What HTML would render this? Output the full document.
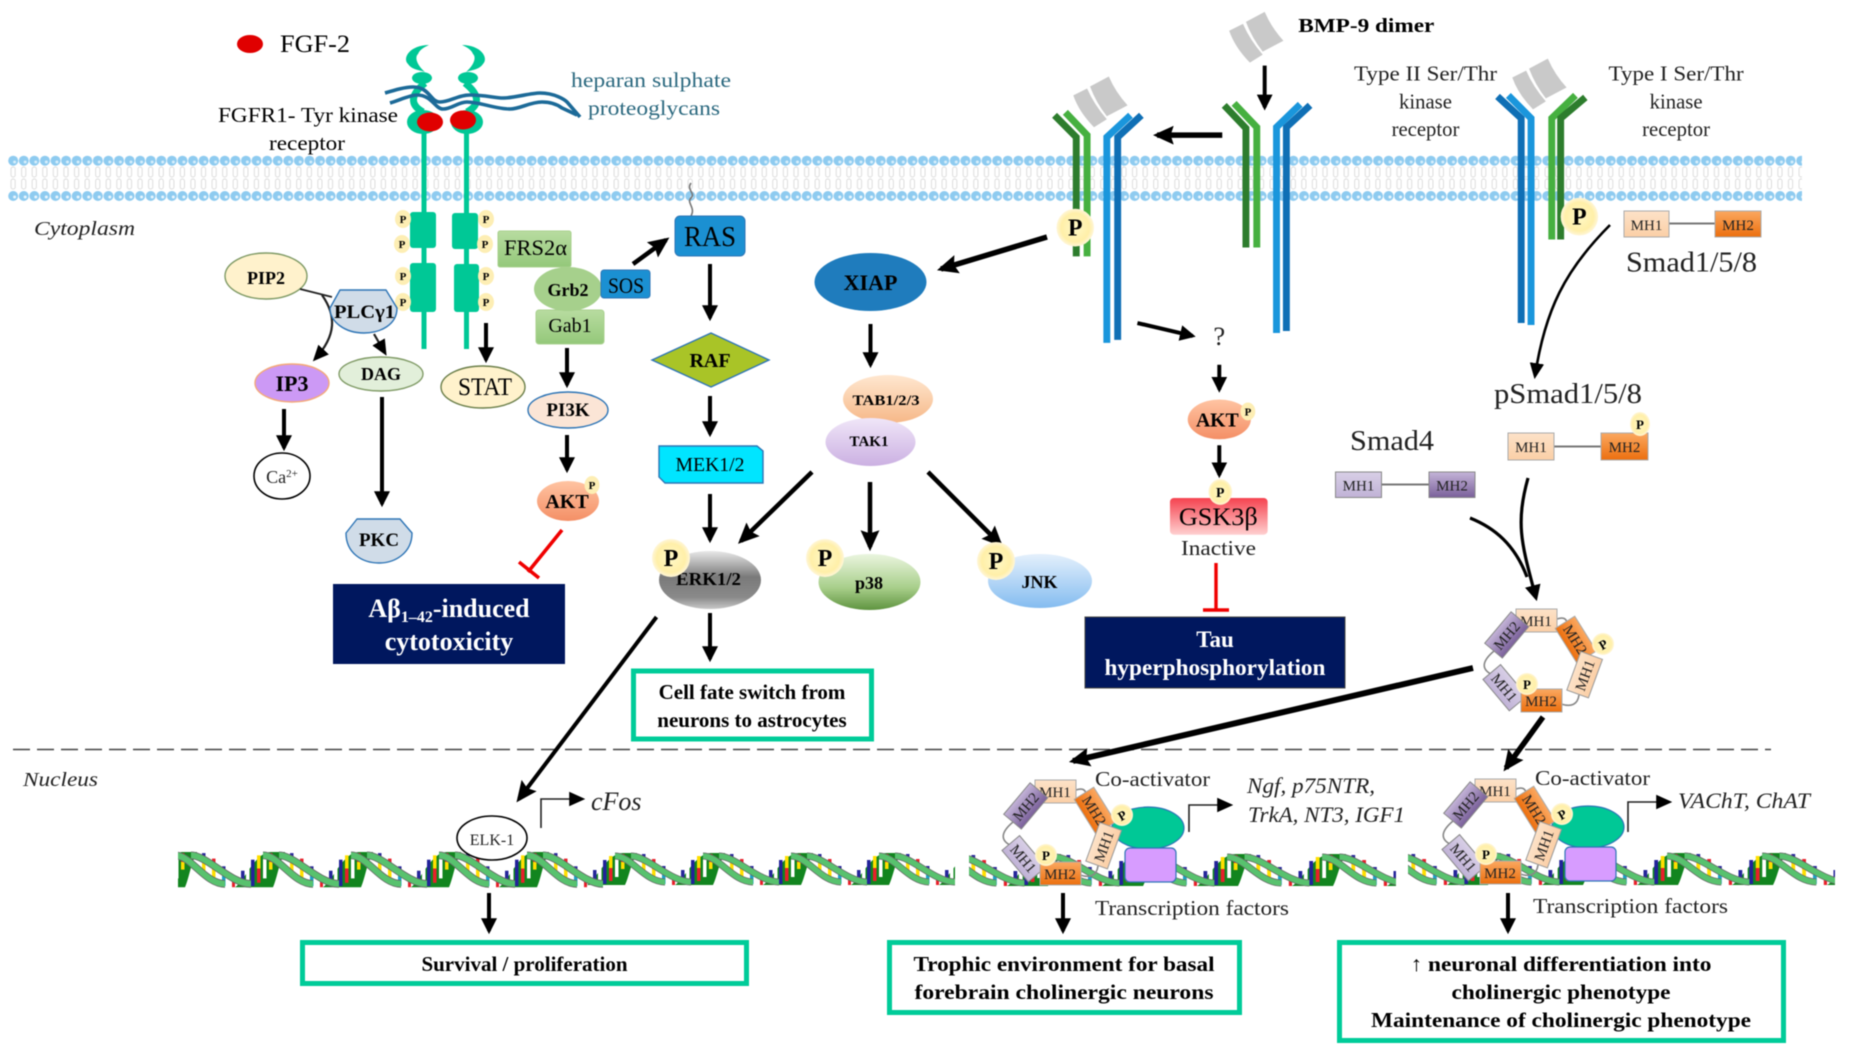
<!DOCTYPE html>
<html><head><meta charset="utf-8"><title>FGF-2 and BMP-9 signalling</title>
<style>
html,body{margin:0;padding:0;background:#fff}
svg{display:block;font-family:"Liberation Serif",serif;filter:blur(.45px)}
.b{font-weight:bold}.i{font-style:italic}
.m{font-size:15px;fill:#222;text-anchor:middle}
.ar{stroke:#000;fill:none;stroke-width:4;marker-end:url(#a)}
.at{stroke:#000;fill:none;stroke-width:5.5;marker-end:url(#c)}
.th{stroke:#000;fill:none;stroke-width:4.5;marker-end:url(#c)}
.gbox{fill:#fff;stroke:#00cc99;stroke-width:5}
.link{fill:none;stroke:#888;stroke-width:1.6}
</style></head><body>
<svg width="1852" height="1053" viewBox="0 0 1852 1053" xmlns="http://www.w3.org/2000/svg">
<defs>
<marker id="a" viewBox="0 0 10 10" refX="8" refY="5" markerWidth="16" markerHeight="16" orient="auto" markerUnits="userSpaceOnUse"><path d="M0 0L10 5L0 10Z"/></marker>
<marker id="c" viewBox="0 0 10 10" refX="8" refY="5" markerWidth="21" markerHeight="21" orient="auto" markerUnits="userSpaceOnUse"><path d="M0 0.5L10 5L0 9.5L1.5 5Z"/></marker>
<marker id="s" viewBox="0 0 10 10" refX="8" refY="5" markerWidth="16" markerHeight="16" orient="auto" markerUnits="userSpaceOnUse"><path d="M0 0.5L10 5L0 9.5Z"/></marker>
<pattern id="mem" patternUnits="userSpaceOnUse" x="8" y="150" width="10.58" height="56">
<g fill="none" stroke="#dcdcdc" stroke-width="1"><rect x="3" y="17" width="4.2" height="10" rx="2"/><rect x="3" y="29" width="4.2" height="10" rx="2"/></g>
<circle cx="5.2" cy="10.7" r="5" fill="#8ecbf0"/><circle cx="5.2" cy="46" r="5" fill="#8ecbf0"/>
<circle cx="6.6" cy="12" r="1.5" fill="#d6eefb"/><circle cx="6.6" cy="47" r="1.5" fill="#eaf6fd"/>
</pattern>
<g id="dback">
<path d="M0 32C10 26 20 0 36 0L50 0C44 10 42 24 38 32Z" fill="#12851f"/>
<rect x="6" y="17" width="3.5" height="13" fill="#26269a"/><rect x="11" y="11" width="3.5" height="20" fill="#fff"/><rect x="16" y="7" width="3.5" height="24" fill="#22229a"/>
<rect x="22" y="3" width="3.5" height="12" fill="#ffdf00"/><rect x="22" y="15" width="3.5" height="13" fill="#e8202a"/><rect x="28" y="2" width="3.5" height="22" fill="#fff"/><rect x="34" y="1" width="3.5" height="8" fill="#e8202a"/><rect x="34" y="9" width="3.5" height="7" fill="#ffdf00"/>
<rect x="55" y="1" width="3.5" height="9" fill="#26269a"/><rect x="55" y="10" width="3.5" height="8" fill="#ffdf00"/><rect x="60" y="3" width="3.5" height="20" fill="#fff"/><rect x="65" y="6" width="3.5" height="10" fill="#e8202a"/><rect x="65" y="16" width="3.5" height="10" fill="#ffdf00"/><rect x="70" y="10" width="3.5" height="21" fill="#fff"/><rect x="75" y="13" width="3.5" height="8" fill="#26269a"/><rect x="75" y="21" width="3.5" height="10" fill="#18a5c9"/><rect x="80" y="17" width="3.5" height="14" fill="#fff"/><rect x="85" y="24" width="3" height="8" fill="#e8202a"/>
</g>
<g id="dfront" fill="none">
<g stroke="#666" stroke-width="7"><path d="M28 3C44 3 58 29 78 29"/><path d="M44 3C60 3 84 29 104 29"/></g>
<g stroke="#58c26e" stroke-width="5.5"><path d="M28 3C44 3 58 29 78 29"/><path d="M44 3C60 3 84 29 104 29"/></g>
</g>
<clipPath id="c1"><rect x="178" y="845" width="777" height="50"/></clipPath>
<clipPath id="c2"><rect x="969" y="845" width="427" height="50"/></clipPath>
<clipPath id="c3"><rect x="1408" y="845" width="427" height="50"/></clipPath>
<radialGradient id="gP"><stop offset="0" stop-color="#fff9c8"/><stop offset=".75" stop-color="#ffefa8"/><stop offset="1" stop-color="#fff6d8"/></radialGradient>
<linearGradient id="gAkt" x1="0" y1="0" x2="0" y2="1"><stop offset="0" stop-color="#ffc4a2"/><stop offset="1" stop-color="#f48f66"/></linearGradient>
<linearGradient id="gGreen" x1="0" y1="0" x2="0" y2="1"><stop offset="0" stop-color="#b8dca0"/><stop offset="1" stop-color="#94c87a"/></linearGradient>
<linearGradient id="gTab" x1="0" y1="0" x2="0" y2="1"><stop offset="0" stop-color="#ffe7d0"/><stop offset="1" stop-color="#f6b888"/></linearGradient>
<linearGradient id="gTak" x1="0" y1="0" x2="0" y2="1"><stop offset="0" stop-color="#f0e6f8"/><stop offset="1" stop-color="#cbb0e2"/></linearGradient>
<linearGradient id="gErk" x1="0" y1="0" x2="0" y2="1"><stop offset="0" stop-color="#e8e8e8"/><stop offset=".45" stop-color="#7a7a7a"/><stop offset=".8" stop-color="#8a8a8a"/><stop offset="1" stop-color="#c8c8c8"/></linearGradient>
<linearGradient id="gP38" x1="0" y1="0" x2="0" y2="1"><stop offset="0" stop-color="#eaf5df"/><stop offset=".6" stop-color="#a9cf8b"/><stop offset="1" stop-color="#5f9440"/></linearGradient>
<linearGradient id="gJnk" x1="0" y1="0" x2="0" y2="1"><stop offset="0" stop-color="#e4f0fc"/><stop offset="1" stop-color="#84bcf0"/></linearGradient>
<linearGradient id="gGsk" x1="0" y1="0" x2="0" y2="1"><stop offset="0" stop-color="#f5424f"/><stop offset="1" stop-color="#ffd0d0"/></linearGradient>
<linearGradient id="gO" x1="0" y1="0" x2="0" y2="1"><stop offset="0" stop-color="#fba860"/><stop offset="1" stop-color="#ec6f0e"/></linearGradient>
<linearGradient id="gPk" x1="0" y1="0" x2="0" y2="1"><stop offset="0" stop-color="#fde2c8"/><stop offset="1" stop-color="#fbcfa6"/></linearGradient>
<linearGradient id="gPl" x1="0" y1="0" x2="0" y2="1"><stop offset="0" stop-color="#d8cfe6"/><stop offset="1" stop-color="#c0b2d6"/></linearGradient>
<linearGradient id="gPd" x1="0" y1="0" x2="0" y2="1"><stop offset="0" stop-color="#c4b4d8"/><stop offset="1" stop-color="#7a609a"/></linearGradient>
</defs>
<rect width="1852" height="1053" fill="#fff"/>

<!-- membrane -->
<rect x="8" y="150" width="1794" height="56" fill="url(#mem)"/>
<line x1="13" y1="749.5" x2="1771" y2="749.5" stroke="#444" stroke-width="1.6" stroke-dasharray="17 7"/>

<!-- DNA -->
<g clip-path="url(#c1)">
<use href="#dback" transform="translate(147 852) scale(1 1.1)"/><use href="#dback" transform="translate(235 852) scale(1 1.1)"/><use href="#dback" transform="translate(323 852) scale(1 1.1)"/><use href="#dback" transform="translate(411 852) scale(1 1.1)"/><use href="#dback" transform="translate(499 852) scale(1 1.1)"/><use href="#dback" transform="translate(587 853)"/><use href="#dback" transform="translate(675 853)"/><use href="#dback" transform="translate(763 853)"/><use href="#dback" transform="translate(851 853)"/><use href="#dback" transform="translate(939 853)"/>
<use href="#dfront" transform="translate(59 852) scale(1 1.1)"/><use href="#dfront" transform="translate(147 852) scale(1 1.1)"/><use href="#dfront" transform="translate(235 852) scale(1 1.1)"/><use href="#dfront" transform="translate(323 852) scale(1 1.1)"/><use href="#dfront" transform="translate(411 852) scale(1 1.1)"/><use href="#dfront" transform="translate(499 852) scale(1 1.1)"/><use href="#dfront" transform="translate(587 853)"/><use href="#dfront" transform="translate(675 853)"/><use href="#dfront" transform="translate(763 853)"/><use href="#dfront" transform="translate(851 853)"/><use href="#dfront" transform="translate(939 853)"/>
</g>
<g clip-path="url(#c2)">
<use href="#dback" transform="translate(912 854) scale(1.08 1)"/><use href="#dback" transform="translate(1007 854) scale(1.08 1)"/><use href="#dback" transform="translate(1102 854) scale(1.08 1)"/><use href="#dback" transform="translate(1197 854) scale(1.08 1)"/><use href="#dback" transform="translate(1292 854) scale(1.08 1)"/><use href="#dback" transform="translate(1387 854) scale(1.08 1)"/>
<use href="#dfront" transform="translate(912 854) scale(1.08 1)"/><use href="#dfront" transform="translate(1007 854) scale(1.08 1)"/><use href="#dfront" transform="translate(1102 854) scale(1.08 1)"/><use href="#dfront" transform="translate(1197 854) scale(1.08 1)"/><use href="#dfront" transform="translate(1292 854) scale(1.08 1)"/><use href="#dfront" transform="translate(1387 854) scale(1.08 1)"/>
</g>
<g clip-path="url(#c3)">
<use href="#dback" transform="translate(1352 853) scale(1.08 1)"/><use href="#dback" transform="translate(1447 853) scale(1.08 1)"/><use href="#dback" transform="translate(1542 853) scale(1.08 1)"/><use href="#dback" transform="translate(1637 853) scale(1.08 1)"/><use href="#dback" transform="translate(1732 853) scale(1.08 1)"/><use href="#dback" transform="translate(1827 853) scale(1.08 1)"/>
<use href="#dfront" transform="translate(1352 853) scale(1.08 1)"/><use href="#dfront" transform="translate(1447 853) scale(1.08 1)"/><use href="#dfront" transform="translate(1542 853) scale(1.08 1)"/><use href="#dfront" transform="translate(1637 853) scale(1.08 1)"/><use href="#dfront" transform="translate(1732 853) scale(1.08 1)"/><use href="#dfront" transform="translate(1827 853) scale(1.08 1)"/>
</g>

<!-- left half group -->
<g>
<text x="280" y="52" font-size="25" textLength="70" lengthAdjust="spacingAndGlyphs">FGF-2</text>
<ellipse cx="250" cy="44" rx="13" ry="9" fill="#e00000"/>
<!-- FGFR -->
<g fill="#00c896" stroke="none">
<path d="M429 45C410 45 402 58 408 64C412 70 420 70 425 72C418 66 414 58 418 54C420 49 425 47 429 45Z"/>
<path d="M462 45C481 45 489 58 483 64C479 70 471 70 466 72C473 66 477 58 473 54C471 49 466 47 462 45Z"/>
<ellipse cx="422" cy="78" rx="10" ry="6"/><ellipse cx="468" cy="78" rx="10" ry="6"/>
<ellipse cx="423" cy="122" rx="16" ry="12"/><ellipse cx="467" cy="122" rx="16" ry="12"/>
<rect x="421.5" y="130" width="5" height="219"/><rect x="464" y="130" width="5" height="219"/>
<rect x="410" y="212" width="26" height="36" rx="3"/><rect x="410" y="263" width="26" height="49" rx="3"/>
<rect x="452" y="213" width="26" height="36" rx="3"/><rect x="454" y="264" width="25" height="48" rx="3"/>
</g>
<g fill="none" stroke="#00c896" stroke-width="7"><path d="M425 83C410 95 410 105 423 112"/><path d="M465 83C480 95 480 105 467 112"/></g>
<g fill="none" stroke="#1c6a98" stroke-width="3.6">
<path d="M385 93C395 90 405 87 413 87C430 87 430 102 440 102C450 102 458 95 470 95C485 95 495 98 503 98C515 98 530 93 540 93C555 93 565 100 567 102L580 117"/>
<path d="M390 103C400 100 410 95 417 95C432 95 435 109 443 109C452 109 458 102 467 102C480 102 495 109 510 109C520 109 530 102 542 102C552 102 558 105 562 108L577 115"/>
</g>
<ellipse cx="430" cy="122" rx="13" ry="9.5" fill="#e00000"/><ellipse cx="463" cy="120" rx="13" ry="9.5" fill="#e00000"/>
<g fill="#fdeeb4"><ellipse cx="403" cy="219" rx="8" ry="9"/><ellipse cx="402" cy="244" rx="8" ry="9"/><ellipse cx="403" cy="276" rx="8" ry="9"/><ellipse cx="403" cy="302" rx="8" ry="9"/><ellipse cx="486" cy="219" rx="8" ry="9"/><ellipse cx="485" cy="244" rx="8" ry="9"/><ellipse cx="486" cy="276" rx="8" ry="9"/><ellipse cx="486" cy="302" rx="8" ry="9"/></g>
<g font-size="11" class="b" text-anchor="middle"><text x="403" y="223">P</text><text x="402" y="248">P</text><text x="403" y="280">P</text><text x="403" y="306">P</text><text x="486" y="223">P</text><text x="485" y="248">P</text><text x="486" y="280">P</text><text x="486" y="306">P</text></g>
<text x="218" y="122" font-size="21" textLength="180" lengthAdjust="spacingAndGlyphs">FGFR1- Tyr kinase</text>
<text x="269" y="150" font-size="21" textLength="76" lengthAdjust="spacingAndGlyphs">receptor</text>
<text x="571" y="87" font-size="21" fill="#2d6a80" textLength="160" lengthAdjust="spacingAndGlyphs">heparan sulphate</text>
<text x="588" y="115" font-size="21" fill="#2d6a80" textLength="132" lengthAdjust="spacingAndGlyphs">proteoglycans</text>
<text x="34" y="235" font-size="20" class="i" fill="#222" textLength="101" lengthAdjust="spacingAndGlyphs">Cytoplasm</text>

<ellipse cx="266" cy="276" rx="41" ry="23" fill="#fff2cc" stroke="#7f9a65" stroke-width="1.4"/>
<text x="266" y="284" font-size="18" class="b" text-anchor="middle">PIP2</text>
<path d="M300 289L332 297" stroke="#222" stroke-width="1.8" fill="none"/>
<path d="M322 295C336 315 337 335 315 359" fill="none" stroke="#222" stroke-width="2.2" marker-end="url(#s)"/>
<path d="M374 334L385 353" fill="none" stroke="#222" stroke-width="2.2" marker-end="url(#s)"/>
<path d="M340 290H386L397 308C397 325 380 333 364 333C345 333 330 322 330 308Z" fill="#d0dce8" stroke="#2e75b6" stroke-width="1.4" stroke-linejoin="round"/>
<text x="334" y="318" font-size="19" class="b" textLength="61" lengthAdjust="spacingAndGlyphs">PLCγ1</text>
<ellipse cx="292" cy="383" rx="37" ry="19" fill="#cc99f5" stroke="#f4a97a" stroke-width="1.4"/>
<text x="292" y="391" font-size="22" class="b" text-anchor="middle">IP3</text>
<ellipse cx="381" cy="374" rx="42" ry="17" fill="#e2efda" stroke="#7f9a65" stroke-width="1.4"/>
<text x="381" y="380" font-size="18" class="b" text-anchor="middle">DAG</text>
<ellipse cx="483" cy="387" rx="42" ry="21" fill="#fff2cc" stroke="#6b7f4a" stroke-width="1.4"/>
<text x="458" y="395" font-size="25" textLength="54" lengthAdjust="spacingAndGlyphs">STAT</text>
<path d="M486 323V360" class="ar"/>
<path d="M284 409V448" class="ar"/>
<ellipse cx="282" cy="476" rx="28" ry="23" fill="#fff" stroke="#000" stroke-width="1.6"/>
<text x="282" y="483" font-size="18" text-anchor="middle" fill="#222">Ca<tspan font-size="11" dy="-6">2+</tspan></text>
<path d="M382 397V504" class="ar"/>

<rect x="498" y="231" width="73" height="36" rx="2" fill="url(#gGreen)" stroke="#a9d18e"/>
<text x="504" y="255" font-size="22" textLength="63" lengthAdjust="spacingAndGlyphs">FRS2α</text>
<rect x="536" y="310" width="68" height="34" rx="3" fill="url(#gGreen)" stroke="#a9d18e"/>
<text x="570" y="332" font-size="20" text-anchor="middle">Gab1</text>
<ellipse cx="568" cy="289" rx="34" ry="22" fill="#a6d08c"/>
<text x="568" y="296" font-size="18" class="b" text-anchor="middle">Grb2</text>
<rect x="601" y="270" width="49" height="28" rx="3" fill="#1b90d2" stroke="#2e75b6"/>
<text x="626" y="293" font-size="22" text-anchor="middle" textLength="36" lengthAdjust="spacingAndGlyphs">SOS</text>
<path d="M633 264L666 240" class="th"/>
<path d="M691 183C686 190 696 193 691 198C686 203 696 207 691 216" fill="none" stroke="#777" stroke-width="1.6"/>
<rect x="675" y="216" width="70" height="40" rx="5" fill="#1b90d2" stroke="#2e75b6"/>
<text x="710" y="246" font-size="28" text-anchor="middle" textLength="52" lengthAdjust="spacingAndGlyphs">RAS</text>
<path d="M710 264V318" class="ar"/>
<polygon points="652,360 711,333 769,360 711,387" fill="#a9c427" stroke="#2e75b6" stroke-width="1.4"/>
<text x="710" y="367" font-size="20" class="b" text-anchor="middle">RAF</text>
<path d="M710 396V434" class="ar"/>
<polygon points="659,446 757,446 763,451 763,483 665,483 659,477" fill="#00e5ff" stroke="#2e75b6" stroke-width="1.4"/>
<text x="710" y="471" font-size="20" text-anchor="middle" textLength="69" lengthAdjust="spacingAndGlyphs">MEK1/2</text>
<path d="M567 348V385" class="ar"/>
<ellipse cx="568" cy="410" rx="40" ry="18" fill="#fbe5d6" stroke="#2e75b6" stroke-width="1.4"/>
<text x="568" y="416" font-size="19" class="b" text-anchor="middle">PI3K</text>
<path d="M567 435V470" class="ar"/>
<ellipse cx="568" cy="501" rx="31" ry="20" fill="url(#gAkt)"/>
<text x="567" y="508" font-size="20" class="b" text-anchor="middle">AKT</text>
<ellipse cx="592" cy="485" rx="7.5" ry="9" fill="#fdeeb4"/><text x="592" y="489" font-size="11" class="b" text-anchor="middle">P</text>
</g>

<!-- PKC / navy -->
<path d="M357 519H400L412 533C412 553 395 563 379 563C362 563 346 553 346 533Z" fill="#d0dce8" stroke="#2e75b6" stroke-width="1.4" stroke-linejoin="round"/>
<text x="379" y="546" font-size="19" class="b" text-anchor="middle">PKC</text>
<path d="M562 530L528 572M519 562L539 578" stroke="#f00000" stroke-width="3.6" fill="none"/>
<rect x="333" y="584" width="232" height="80" fill="#00175e"/>
<text x="449" y="617" font-size="26" class="b" fill="#fff" text-anchor="middle">Aβ<tspan font-size="16" dy="5">1–42</tspan><tspan dy="-5">-induced</tspan></text>
<text x="449" y="650" font-size="26" class="b" fill="#fff" text-anchor="middle">cytotoxicity</text>

<!-- right-hand upper group -->
<g transform="translate(800 0) scale(.98658 .9939) translate(-800 0)">
<g fill="#c9c9c9"><path d="M1252 22L1271 12Q1278 28 1290 41L1269 52Q1258 38 1252 22Z"/><path d="M1235 31L1249 24Q1256 40 1269 55L1256 63Q1241 48 1235 31Z"/></g>
<g fill="#c9c9c9" transform="translate(-158 65)"><path d="M1252 22L1271 12Q1278 28 1290 41L1269 52Q1258 38 1252 22Z"/><path d="M1235 31L1249 24Q1256 40 1269 55L1256 63Q1241 48 1235 31Z"/></g>
<g fill="#c9c9c9" transform="translate(287 47)"><path d="M1252 22L1271 12Q1278 28 1290 41L1269 52Q1258 38 1252 22Z"/><path d="M1235 31L1249 24Q1256 40 1269 55L1256 63Q1241 48 1235 31Z"/></g>
<text x="1305" y="32" font-size="20" class="b" textLength="138" lengthAdjust="spacingAndGlyphs">BMP-9 dimer</text>
<path d="M1271 66V108" class="ar"/>
<path d="M1228 136H1162" class="at"/>
<g fill="none" stroke-width="7">
<path d="M1230 106L1252 129V249" stroke="#2d7d2d"/><path d="M1240 104L1263 128V249" stroke="#46b040"/>
<path d="M1307 105L1283 128V335" stroke="#1a96dc"/><path d="M1317 106L1293 128V333" stroke="#0f6fb5"/>
<path d="M1058 116L1080 138V258" stroke="#2d7d2d"/><path d="M1069 113L1091 136V258" stroke="#46b040"/>
<path d="M1135 116L1111 138V345" stroke="#1a96dc"/><path d="M1146 116L1122 138V342" stroke="#0f6fb5"/>
<path d="M1507 97L1531 119V325" stroke="#0f6fb5"/><path d="M1518 96L1541 119V327" stroke="#1a96dc"/>
<path d="M1586 96L1562 119V241" stroke="#46b040"/><path d="M1596 98L1571 119V241" stroke="#2d7d2d"/>
</g>
<circle cx="1079" cy="229" r="19" fill="url(#gP)"/><text x="1079" y="237" font-size="24" class="b" text-anchor="middle">P</text>
<circle cx="1590" cy="218" r="19" fill="url(#gP)"/><text x="1590" y="226" font-size="24" class="b" text-anchor="middle">P</text>
<text x="1434" y="81" font-size="21" text-anchor="middle" fill="#222" textLength="145" lengthAdjust="spacingAndGlyphs">Type II Ser/Thr</text>
<text x="1434" y="109" font-size="21" text-anchor="middle" fill="#222">kinase</text>
<text x="1434" y="137" font-size="21" text-anchor="middle" fill="#222">receptor</text>
<text x="1688" y="81" font-size="21" text-anchor="middle" fill="#222" textLength="137" lengthAdjust="spacingAndGlyphs">Type I Ser/Thr</text>
<text x="1688" y="109" font-size="21" text-anchor="middle" fill="#222">kinase</text>
<text x="1688" y="137" font-size="21" text-anchor="middle" fill="#222">receptor</text>
<path d="M1142 325L1198 338" fill="none" stroke="#000" stroke-width="4" marker-end="url(#a)"/>
<text x="1225" y="347" font-size="27" text-anchor="middle" fill="#222">?</text>
<path d="M1225 367V392" class="ar"/>
<ellipse cx="1225" cy="422" rx="32" ry="20" fill="url(#gAkt)"/>
<text x="1223" y="429" font-size="20" class="b" text-anchor="middle">AKT</text>
<ellipse cx="1254" cy="414" rx="7.5" ry="9" fill="#fdeeb4"/><text x="1254" y="418" font-size="11" class="b" text-anchor="middle">P</text>
<path d="M1225 448V478" class="ar"/>
<rect x="1175" y="501" width="99" height="37" rx="4" fill="url(#gGsk)"/>
<text x="1224" y="528" font-size="26" text-anchor="middle" textLength="80" lengthAdjust="spacingAndGlyphs">GSK3β</text>
<ellipse cx="1226" cy="495" rx="12" ry="13" fill="url(#gP)"/><text x="1226" y="500" font-size="14" class="b" text-anchor="middle">P</text>
</g>

<!-- XIAP cascade -->
<path d="M1047 237L941 269" class="at"/>
<ellipse cx="870.5" cy="282" rx="56" ry="29" fill="#1f7cbd"/>
<text x="870.5" y="290" font-size="22" class="b" text-anchor="middle">XIAP</text>
<path d="M870.5 324V365" class="ar"/>
<ellipse cx="888" cy="399" rx="45" ry="24" fill="url(#gTab)"/>
<text x="886" y="405" font-size="15" class="b" text-anchor="middle" textLength="67" lengthAdjust="spacingAndGlyphs">TAB1/2/3</text>
<ellipse cx="870.5" cy="442" rx="45" ry="24" fill="url(#gTak)"/>
<text x="869" y="446" font-size="15" class="b" text-anchor="middle">TAK1</text>
<path d="M812 472L741 541" class="th"/>
<path d="M870 482V547" class="th"/>
<path d="M928 472L1000 544" class="th"/>

<path d="M710 494V540" class="ar"/>
<ellipse cx="710" cy="580" rx="51" ry="29" fill="url(#gErk)"/>
<text x="708.5" y="585" font-size="18" class="b" text-anchor="middle" textLength="65" lengthAdjust="spacingAndGlyphs">ERK1/2</text>
<circle cx="671" cy="558" r="19" fill="url(#gP)"/><text x="671" y="566" font-size="24" class="b" text-anchor="middle">P</text>
<ellipse cx="869.5" cy="582" rx="51" ry="28" fill="url(#gP38)"/>
<text x="869" y="589" font-size="18" class="b" text-anchor="middle">p38</text>
<circle cx="825" cy="558" r="19" fill="url(#gP)"/><text x="825" y="566" font-size="24" class="b" text-anchor="middle">P</text>
<ellipse cx="1040" cy="581" rx="52" ry="27" fill="url(#gJnk)"/>
<text x="1039.5" y="588" font-size="18" class="b" text-anchor="middle">JNK</text>
<circle cx="996" cy="561" r="19" fill="url(#gP)"/><text x="996" y="569" font-size="24" class="b" text-anchor="middle">P</text>

<path d="M710 613V659" class="ar"/>
<rect x="633.5" y="671" width="238" height="68" class="gbox"/>
<text x="752" y="699" font-size="21" class="b" text-anchor="middle">Cell fate switch from</text>
<text x="752" y="727" font-size="21" class="b" text-anchor="middle">neurons to astrocytes</text>
<path d="M656.5 617L519 799" fill="none" stroke="#000" stroke-width="4" marker-end="url(#c)"/>

<text x="23" y="786" font-size="20" class="i" fill="#222" textLength="75" lengthAdjust="spacingAndGlyphs">Nucleus</text>
<ellipse cx="492" cy="838" rx="35" ry="22" fill="#fff" stroke="#000" stroke-width="1.6"/>
<text x="492" y="845" font-size="16" text-anchor="middle" fill="#222">ELK-1</text>
<path d="M541 828V799H582" fill="none" stroke="#222" stroke-width="1.6" marker-end="url(#s)"/>
<text x="591" y="810" font-size="26" class="i" fill="#222">cFos</text>
<path d="M489 893V931" class="ar"/>
<rect x="302.5" y="942.5" width="444" height="41" class="gbox"/>
<text x="524.5" y="971" font-size="21" class="b" text-anchor="middle">Survival / proliferation</text>

<!-- Inactive / Tau -->
<text x="1218.5" y="555" font-size="21" text-anchor="middle" fill="#222" textLength="75" lengthAdjust="spacingAndGlyphs">Inactive</text>
<path d="M1216 563V610M1203 610H1229" stroke="#f00000" stroke-width="3.4" fill="none"/>
<rect x="1085" y="617" width="260" height="71" fill="#00175e" stroke="#444" stroke-width="1"/>
<text x="1215" y="647" font-size="23" class="b" fill="#fff" text-anchor="middle">Tau</text>
<text x="1215" y="675" font-size="23" class="b" fill="#fff" text-anchor="middle" textLength="221" lengthAdjust="spacingAndGlyphs">hyperphosphorylation</text>

<!-- Smads -->
<line x1="1669" y1="223.5" x2="1716" y2="223.5" stroke="#777" stroke-width="2"/>
<rect x="1624" y="211" width="45" height="26" fill="url(#gPk)" stroke="#aaa"/><text x="1646.5" y="230" class="m">MH1</text>
<rect x="1715" y="211" width="46" height="26" fill="url(#gO)" stroke="#aaa"/><text x="1738" y="230" class="m">MH2</text>
<text x="1626" y="271.5" font-size="28" fill="#222" textLength="131" lengthAdjust="spacingAndGlyphs">Smad1/5/8</text>
<path d="M1610 225C1565 270 1545 310 1535 376" fill="none" stroke="#000" stroke-width="2.6" marker-end="url(#s)"/>
<text x="1494" y="403" font-size="28" fill="#222" textLength="148" lengthAdjust="spacingAndGlyphs">pSmad1/5/8</text>
<line x1="1554" y1="446.5" x2="1602" y2="446.5" stroke="#777" stroke-width="2"/>
<rect x="1508" y="433" width="46" height="27" fill="url(#gPk)" stroke="#aaa"/><text x="1531" y="452" class="m">MH1</text>
<rect x="1601" y="433" width="47" height="27" fill="url(#gO)" stroke="#aaa"/><text x="1624.5" y="452" class="m">MH2</text>
<ellipse cx="1640" cy="424" rx="10" ry="12" fill="url(#gP)"/><text x="1640" y="429" font-size="13" class="b" text-anchor="middle">P</text>
<text x="1350" y="450" font-size="28" fill="#222" textLength="84" lengthAdjust="spacingAndGlyphs">Smad4</text>
<line x1="1381" y1="484.5" x2="1430" y2="484.5" stroke="#777" stroke-width="2"/>
<rect x="1335.5" y="472" width="46" height="25.5" fill="url(#gPl)" stroke="#888"/><text x="1358.5" y="490.5" class="m">MH1</text>
<rect x="1429" y="472" width="46" height="25.5" fill="url(#gPd)" stroke="#888"/><text x="1452" y="490.5" class="m">MH2</text>
<path d="M1528 478C1515 525 1522 545 1536 598" fill="none" stroke="#000" stroke-width="3.2" marker-end="url(#a)"/>
<path d="M1470 518C1495 528 1515 545 1527 577" fill="none" stroke="#000" stroke-width="3.2"/>

<!-- complexes -->
<g transform="translate(481 -171)">
<path d="M1076 790Q1088 786 1086 800M1013 822Q994 838 1012 846M1080 875Q1096 880 1098 866" class="link"/>
<rect x="1035" y="780" width="41" height="23" fill="url(#gPk)" stroke="#aaa"/><text x="1055" y="797" class="m">MH1</text>
<g transform="rotate(-50 1025 806)"><rect x="1005" y="795" width="41" height="23" fill="url(#gPd)" stroke="#888"/><text x="1025" y="812" class="m">MH2</text></g>
<g transform="rotate(58 1095 810)"><rect x="1075" y="799" width="41" height="23" fill="url(#gO)" stroke="#aaa"/><text x="1095" y="816" class="m">MH2</text></g>
<circle cx="1122" cy="815" r="11" fill="url(#gP)"/><text x="1122" y="820" font-size="13" class="b" text-anchor="middle" transform="rotate(-30 1122 815)">P</text>
<g transform="rotate(-70 1103 846)"><rect x="1083" y="835" width="41" height="23" fill="url(#gPk)" stroke="#999"/><text x="1103" y="852" class="m">MH1</text></g>
<g transform="rotate(50 1024 858)"><rect x="1004" y="847" width="41" height="23" fill="url(#gPl)" stroke="#888"/><text x="1024" y="864" class="m">MH1</text></g>
<rect x="1040" y="860" width="41" height="23" fill="url(#gO)" stroke="#aaa"/><text x="1060" y="877" class="m">MH2</text>
<circle cx="1046" cy="855" r="11" fill="url(#gP)"/><text x="1046" y="860" font-size="13" class="b" text-anchor="middle">P</text>
</g>
<path d="M1473 668L1073 761" class="at" style="stroke-width:6"/>
<path d="M1543 717L1506 768" class="at"/>

<g>
<ellipse cx="1148" cy="828" rx="36" ry="21" fill="#00c896" stroke="#2e75b6" stroke-width="1.2"/>
<path d="M1076 790Q1088 786 1086 800M1013 822Q994 838 1012 846M1080 875Q1096 880 1098 866" class="link"/>
<rect x="1035" y="780" width="41" height="23" fill="url(#gPk)" stroke="#aaa"/><text x="1055" y="797" class="m">MH1</text>
<g transform="rotate(-50 1025 806)"><rect x="1005" y="795" width="41" height="23" fill="url(#gPd)" stroke="#888"/><text x="1025" y="812" class="m">MH2</text></g>
<g transform="rotate(58 1095 810)"><rect x="1075" y="799" width="41" height="23" fill="url(#gO)" stroke="#aaa"/><text x="1095" y="816" class="m">MH2</text></g>
<circle cx="1122" cy="815" r="11" fill="url(#gP)"/><text x="1122" y="820" font-size="13" class="b" text-anchor="middle" transform="rotate(-30 1122 815)">P</text>
<g transform="rotate(-70 1103 846)"><rect x="1083" y="835" width="41" height="23" fill="url(#gPk)" stroke="#999"/><text x="1103" y="852" class="m">MH1</text></g>
<g transform="rotate(50 1024 858)"><rect x="1004" y="847" width="41" height="23" fill="url(#gPl)" stroke="#888"/><text x="1024" y="864" class="m">MH1</text></g>
<rect x="1040" y="862" width="41" height="23" fill="url(#gO)" stroke="#aaa"/><text x="1060" y="879" class="m">MH2</text>
<circle cx="1046" cy="855" r="11" fill="url(#gP)"/><text x="1046" y="860" font-size="13" class="b" text-anchor="middle">P</text>
<rect x="1125" y="848" width="51" height="34" rx="5" fill="#d79cff" stroke="#2e75b6" stroke-width="1.2"/>
<path d="M1189 832V805H1230" fill="none" stroke="#222" stroke-width="1.6" marker-end="url(#s)"/>
<text x="1095" y="786" font-size="21" fill="#222" textLength="115" lengthAdjust="spacingAndGlyphs">Co-activator</text>
<text x="1247" y="793" font-size="22" class="i" fill="#222" textLength="128" lengthAdjust="spacingAndGlyphs">Ngf, p75NTR,</text>
<text x="1248" y="822" font-size="22" class="i" fill="#222" textLength="157" lengthAdjust="spacingAndGlyphs">TrkA, NT3, IGF1</text>
<text x="1095" y="915" font-size="21" fill="#222" textLength="194" lengthAdjust="spacingAndGlyphs">Transcription factors</text>
<path d="M1063 893V931" class="ar"/>
</g>

<g transform="translate(440 -1)">
<ellipse cx="1148" cy="828" rx="36" ry="21" fill="#00c896" stroke="#2e75b6" stroke-width="1.2"/>
<path d="M1076 790Q1088 786 1086 800M1013 822Q994 838 1012 846M1080 875Q1096 880 1098 866" class="link"/>
<rect x="1035" y="780" width="41" height="23" fill="url(#gPk)" stroke="#aaa"/><text x="1055" y="797" class="m">MH1</text>
<g transform="rotate(-50 1025 806)"><rect x="1005" y="795" width="41" height="23" fill="url(#gPd)" stroke="#888"/><text x="1025" y="812" class="m">MH2</text></g>
<g transform="rotate(58 1095 810)"><rect x="1075" y="799" width="41" height="23" fill="url(#gO)" stroke="#aaa"/><text x="1095" y="816" class="m">MH2</text></g>
<circle cx="1122" cy="815" r="11" fill="url(#gP)"/><text x="1122" y="820" font-size="13" class="b" text-anchor="middle" transform="rotate(-30 1122 815)">P</text>
<g transform="rotate(-70 1103 846)"><rect x="1083" y="835" width="41" height="23" fill="url(#gPk)" stroke="#999"/><text x="1103" y="852" class="m">MH1</text></g>
<g transform="rotate(50 1024 858)"><rect x="1004" y="847" width="41" height="23" fill="url(#gPl)" stroke="#888"/><text x="1024" y="864" class="m">MH1</text></g>
<rect x="1040" y="862" width="41" height="23" fill="url(#gO)" stroke="#aaa"/><text x="1060" y="879" class="m">MH2</text>
<circle cx="1046" cy="855" r="11" fill="url(#gP)"/><text x="1046" y="860" font-size="13" class="b" text-anchor="middle">P</text>
<rect x="1125" y="848" width="51" height="34" rx="5" fill="#d79cff" stroke="#2e75b6" stroke-width="1.2"/>
<path d="M1188 833V803H1229" fill="none" stroke="#222" stroke-width="1.6" marker-end="url(#s)"/>
<text x="1095" y="786" font-size="21" fill="#222" textLength="115" lengthAdjust="spacingAndGlyphs">Co-activator</text>
<text x="1238" y="809" font-size="22" class="i" fill="#222" textLength="132" lengthAdjust="spacingAndGlyphs">VAChT, ChAT</text>
<text x="1093" y="914" font-size="21" fill="#222" textLength="195" lengthAdjust="spacingAndGlyphs">Transcription factors</text>
<path d="M1068 894V932" class="ar"/>
</g>

<!-- outcome boxes -->
<rect x="889.5" y="942.5" width="350" height="70" class="gbox"/>
<text x="1064" y="971" font-size="21" class="b" text-anchor="middle" textLength="301" lengthAdjust="spacingAndGlyphs">Trophic environment for basal</text>
<text x="1064" y="999" font-size="21" class="b" text-anchor="middle" textLength="299" lengthAdjust="spacingAndGlyphs">forebrain cholinergic neurons</text>
<rect x="1339.5" y="942.5" width="444" height="98" class="gbox"/>
<text x="1561" y="971" font-size="21" class="b" text-anchor="middle" textLength="301" lengthAdjust="spacingAndGlyphs">↑ neuronal differentiation into</text>
<text x="1561" y="999" font-size="21" class="b" text-anchor="middle" textLength="219" lengthAdjust="spacingAndGlyphs">cholinergic phenotype</text>
<text x="1561" y="1027" font-size="21" class="b" text-anchor="middle" textLength="380" lengthAdjust="spacingAndGlyphs">Maintenance of cholinergic phenotype</text>
</svg>
</body></html>
